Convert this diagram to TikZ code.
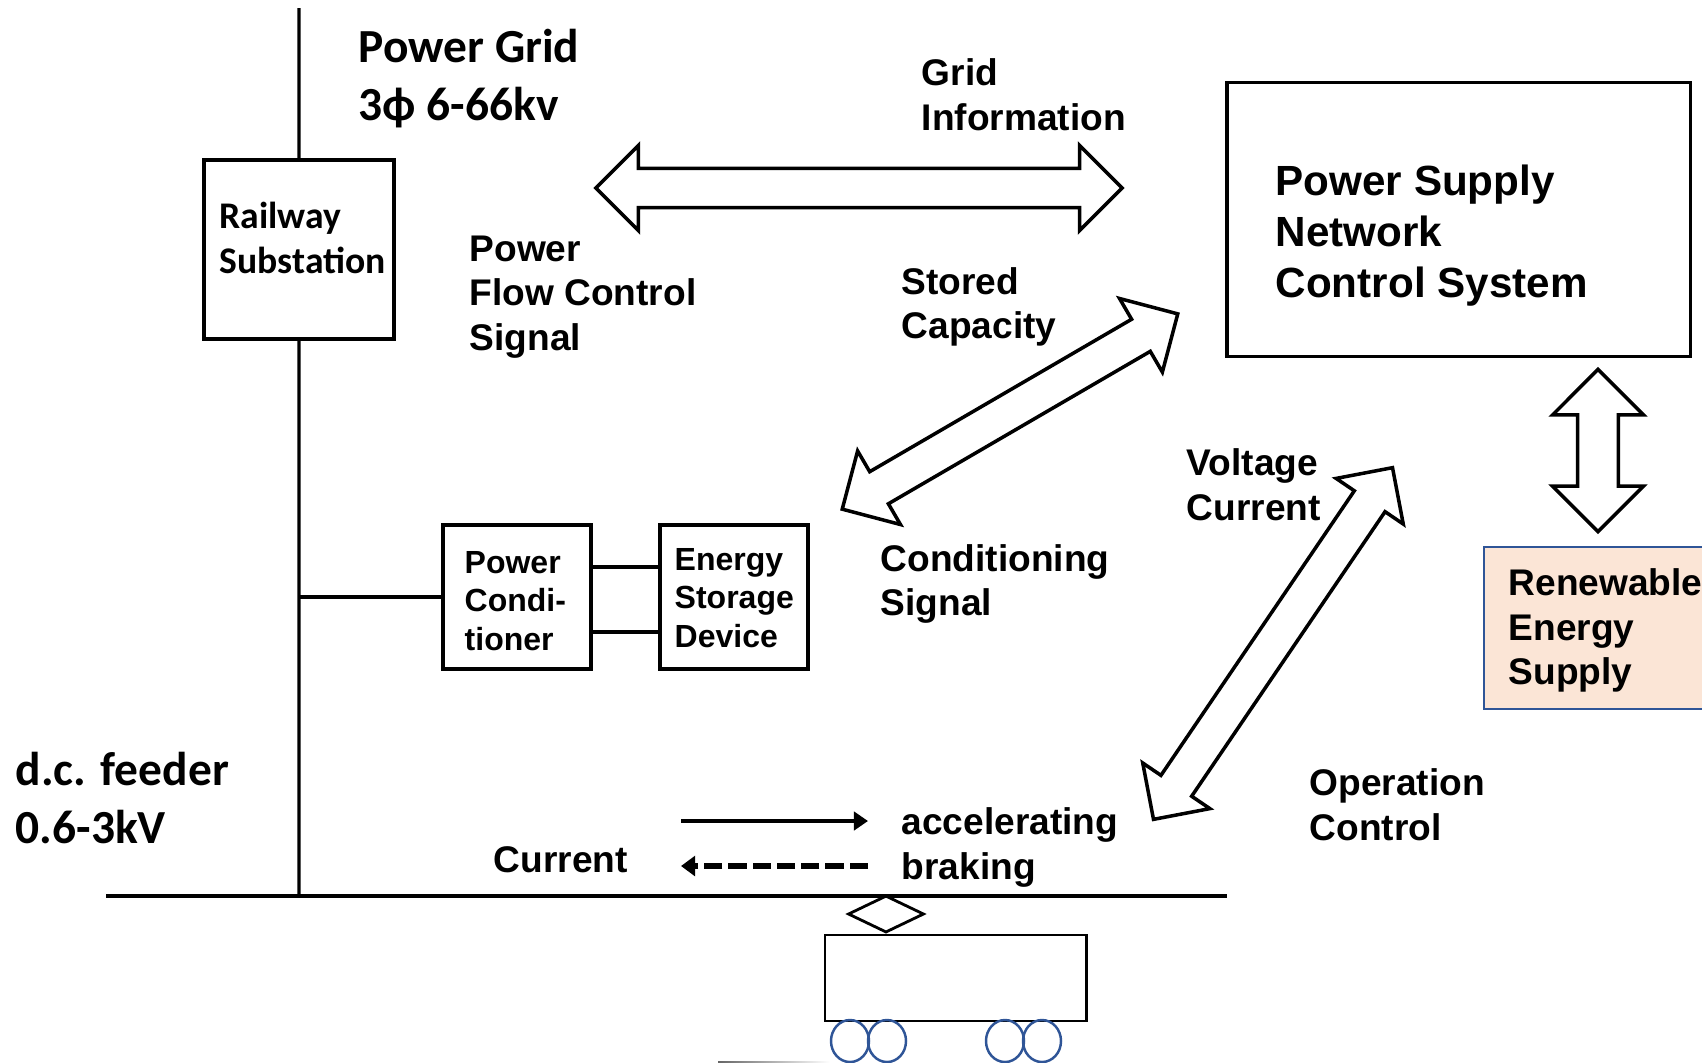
\documentclass[tikz,border=0pt]{standalone}
\usepackage{fontspec}
\setmainfont{Liberation Sans}
\newfontfamily\califont{Carlito}
\usetikzlibrary{arrows.meta,shapes.geometric,shapes.arrows}
\definecolor{wheelblue}{HTML}{2F5597}
\definecolor{renewfill}{HTML}{FBE5D6}

\begin{document}
\begin{tikzpicture}[x=0.01cm,y=-0.01cm,
  txt/.style={font=\bfseries\fontsize{10.55}{12.7}\selectfont,align=left,inner sep=0pt,anchor=west},
  bigtxt/.style={font=\bfseries\fontsize{12}{14.5}\selectfont,align=left,inner sep=0pt,anchor=west},
  smalltxt/.style={font=\bfseries\fontsize{9.1}{10.9}\selectfont,align=left,inner sep=0pt,anchor=west},
  caltxt/.style={font=\califont\bfseries\fontsize{13.5}{16.5}\selectfont,align=left,inner sep=0pt,anchor=west},
  box/.style={draw,line width=1pt,inner sep=0pt,outer sep=0pt,anchor=north west},
  wire/.style={line width=0.9pt},
  blockarrow/.style={draw,shape=double arrow,line width=1pt,inner xsep=0pt,double arrow head extend=#1,anchor=center},
  wheel/.style={draw=wheelblue,line width=0.7pt,shape=ellipse,inner sep=0pt,minimum width=0.38cm,minimum height=0.42cm}]
\useasboundingbox (0,0) rectangle (1702,1062);
% boxes
\node[box,minimum width=1.90cm,minimum height=1.79cm] (railway) at (204,160) {};
\node[box,minimum width=4.63cm,minimum height=2.74cm] (control) at (1227,82.5) {};
\node[box,minimum width=1.48cm,minimum height=1.44cm] (conditioner) at (443,525) {};
\node[box,minimum width=1.48cm,minimum height=1.44cm] (storage) at (660,525) {};
\node[box,draw=wheelblue,line width=0.7pt,fill=renewfill,minimum width=2.40cm,minimum height=1.62cm] (renewable) at (1484,547) {};
% feeder
\coordinate (gridtop) at (299,8);
\coordinate (tap) at (299,896);
\coordinate (feederleft) at (106,896);
\coordinate (feederright) at (1227,896);
\coordinate (branch) at (299,597);
\draw[wire] (gridtop) -- (railway);
\draw[wire] (railway) -- (tap);
\draw[wire] (feederleft) -- (feederright);
\draw[wire] (branch) -- (conditioner.west |- branch);
\foreach \y in {567,632}
  \draw[wire] (conditioner.east |- 0,\y) -- (storage.west |- 0,\y);
% block arrows
\node[blockarrow=0.23cm,inner ysep=0.178cm,minimum height=5.26cm] (gridarrow) at (859,188) {};
\node[blockarrow=0.24cm,inner ysep=0.168cm,minimum height=3.88cm,rotate=30.2] (storedarrow) at (1010,411.5) {};
\node[blockarrow=0.22cm,inner ysep=0.168cm,minimum height=4.25cm,rotate=55.8] (voltagearrow) at (1273,643.5) {};
\node[blockarrow=0.25cm,inner ysep=0.187cm,minimum height=1.62cm,rotate=90] (renewarrow) at (1598,450.5) {};
% current arrows
\coordinate (accleft) at (681,821);
\coordinate (accright) at (868,821);
\coordinate (brakeleft) at (681,866);
\coordinate (brakeright) at (868,866);
\draw[line width=1.1pt,-{Triangle[length=4pt,width=5.2pt]}] (accleft) -- (accright);
\draw[line width=1.6pt,dash pattern=on 5.2pt off 1.7pt,-{Triangle[length=4pt,width=5.6pt]}] (brakeright) -- (brakeleft);
% train
\node[draw,shape=diamond,line width=0.8pt,inner sep=0pt,minimum width=0.76cm,minimum height=0.37cm] (panto) at (886,914) {};
\node[box,line width=0.8pt,minimum width=2.61cm,minimum height=0.86cm] (train) at (825,935) {};
\foreach \i/\x in {1/850,2/887,3/1005,4/1042}
  \node[wheel] (wheel\i) at (\x,1041) {};
\shade[left color=black!60,right color=white] (718,1061) rectangle (830,1062);
% labels
\node[caltxt] (gridlbl) at (358,79) {Power Grid\\3\symbol{"03D5} 6-66kv};
\node[caltxt,font=\califont\bfseries\fontsize{10.7}{12.9}\selectfont] (railwaylbl) at (219,238) {Railway\\Substation};
\node[txt] (infolbl) at (921,95) {Grid\\Information};
\node[txt] (flowlbl) at (469,297) {Power\\Flow Control\\Signal};
\node[txt] (capacitylbl) at (901,307) {Stored\\Capacity};
\node[bigtxt] (controllbl) at (1275,235.5) {Power Supply\\Network\\Control System};
\node[txt] (voltagelbl) at (1186,485) {Voltage\\Current};
\node[txt] (signallbl) at (880,584) {Conditioning\\Signal};
\node[smalltxt] (conditionerlbl) at (464,601) {Power\\Condi-\\tioner};
\node[smalltxt] (storagelbl) at (674,598) {Energy\\Storage\\Device};
\node[txt] (renewlbl) at (1508,630.5) {Renewable\\Energy\\Supply};
\node[caltxt] (dclbl) at (15,798) {d.c. feeder\\0.6-3kV};
\node[txt] (currentlbl) at (493,860) {Current};
\node[txt] (modelbl) at (901,847.5) {accelerating\\braking};
\node[txt] (operationlbl) at (1309,805) {Operation\\Control};
\end{tikzpicture}
\end{document}
